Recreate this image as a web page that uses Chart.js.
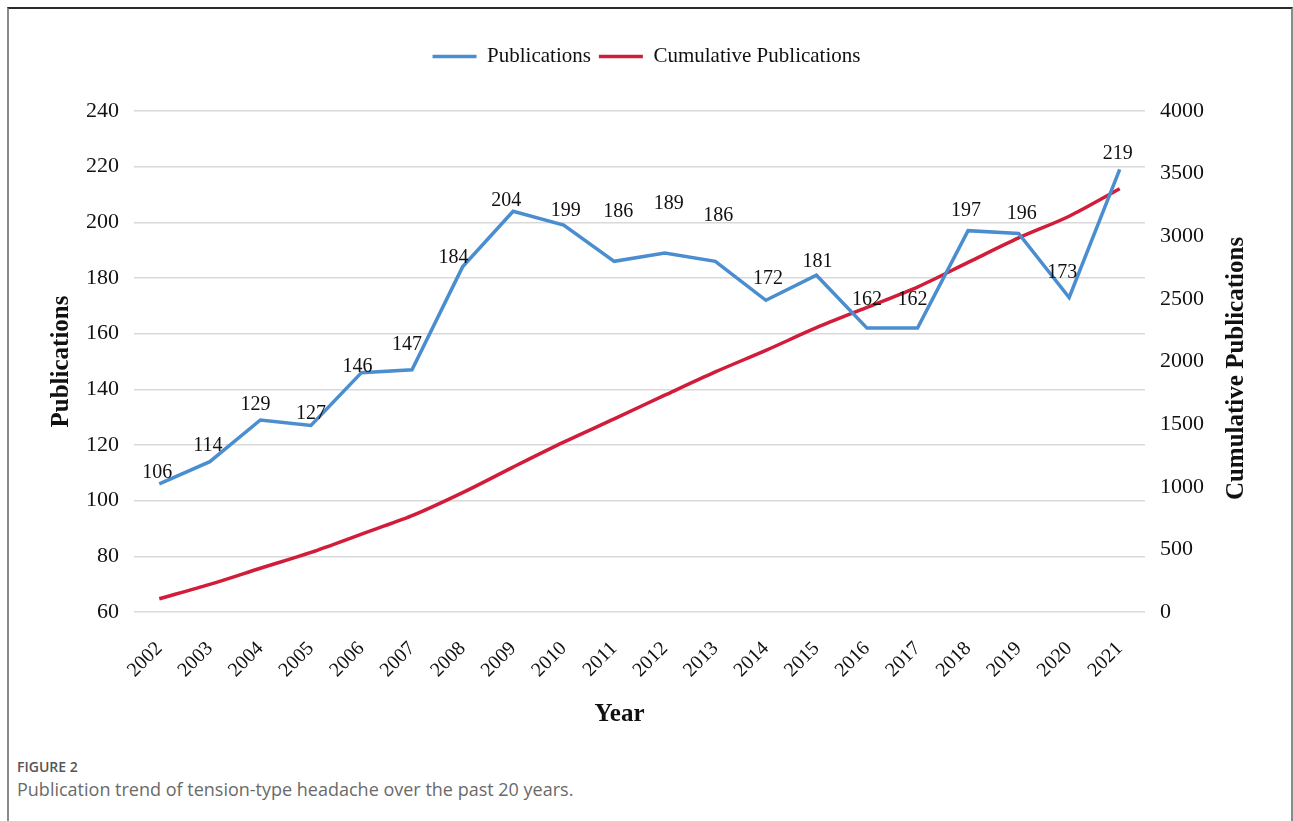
<!DOCTYPE html>
<html>
<head>
<meta charset="utf-8">
<script src="https://cdn.jsdelivr.net/npm/chart.js@4/dist/chart.umd.min.js"></script>
<style>
  html, body { margin: 0; padding: 0; background: #fff; }
  body { width: 1293px; height: 821px; position: relative; overflow: hidden; }
  .frame { position: absolute; left: 7px; top: 7px; width: 1282px; height: 830px;
           border-top: 2px solid #2a2a2a; border-left: 2px solid #8a8a8a; border-right: 2px solid #8a8a8a; }
  #chart { position: absolute; left: 0; top: 0; }
  .cap { position: absolute; left: 17px; font-family: "Open Sans", sans-serif; }
  .cap-num { top: 757px; font-size: 14px; font-weight: 600; color: #555; }
  .cap-txt { top: 777px; font-size: 18px; font-weight: 400; color: #6a6a6a; }
</style>
</head>
<body>
<div class="frame"></div>
<canvas id="chart" width="1293" height="740"></canvas>
<div class="cap cap-num">FIGURE 2</div>
<div class="cap cap-txt">Publication trend of tension-type headache over the past 20 years.</div>
<script>
'use strict';

/* ── 데이터 ── */
const years = ['2002','2003','2004','2005','2006','2007','2008','2009','2010','2011',
               '2012','2013','2014','2015','2016','2017','2018','2019','2020','2021'];
const publications = [106,114,129,127,146,147,184,204,199,186,189,186,172,181,162,162,197,196,173,219];
const cumulative = [106,220,349,476,622,769,953,1157,1356,1542,1731,1917,2089,2270,2432,2594,2791,2987,3160,3379];

/* ── 스타일 ── */
const BLUE = '#4a8ed0', RED = '#d11d3a';
const SERIF = '"Liberation Serif", "Times New Roman", serif';
const X_TITLE = 'Year', Y1_TITLE = 'Cumulative Publications';
// label nudges (px) so the value labels sit where the original put them
const labelDx = [-2,-2,-5,0,-4,-5,-9,-7,2,4,4,3,2,1,0,-5,-2,3,-7,-2];
const labelDy = [-11,-16,-15,-12,-6,-25,-9,-10,-14,-50,-49,-46,-22,-13,-28,-28,-20,-20,-25,-16];

const legendSpacer = {
  id: 'legendSpacer',
  beforeInit(chart) {
    const fit = chart.legend.fit;
    chart.legend.fit = function () { fit.bind(chart.legend)(); this.height += 34; };
  }
};

const valueLabels = {
  id: 'valueLabels',
  afterDatasetsDraw(chart) {
    const ctx = chart.ctx, meta = chart.getDatasetMeta(0);
    ctx.save();
    ctx.font = '20px ' + SERIF;
    ctx.fillStyle = '#111';
    ctx.textAlign = 'center';
    ctx.textBaseline = 'middle';
    meta.data.forEach((pt, i) => {
      ctx.fillText(String(publications[i]), pt.x + labelDx[i], pt.y + labelDy[i]);
    });
    ctx.restore();
  }
};

// right title reads bottom-to-top in the original, chart.js turns it the other way
const axisTitles = {
  id: 'axisTitles',
  afterDraw(chart) {
    const {ctx, chartArea} = chart;
    ctx.save();
    ctx.font = 'bold 25px ' + SERIF;
    ctx.fillStyle = '#111';
    ctx.textAlign = 'center';
    ctx.textBaseline = 'middle';
    ctx.fillText(X_TITLE, (chartArea.left + chartArea.right) / 2 - 20, 715);
    ctx.translate(1237, (chartArea.top + chartArea.bottom) / 2 + 7);
    ctx.rotate(-Math.PI / 2);
    ctx.fillText(Y1_TITLE, 0, 0);
    ctx.restore();
  }
};

new Chart(document.getElementById('chart'), {
  type: 'line',
  data: {
    labels: years,
    datasets: [
      { label: 'Publications', data: publications, yAxisID: 'y', borderColor: BLUE, backgroundColor: BLUE,
        borderWidth: 3.5, pointRadius: 0, tension: 0 },
      { label: 'Cumulative Publications', data: cumulative, yAxisID: 'y1', borderColor: RED, backgroundColor: RED,
        borderWidth: 3.5, pointRadius: 0, tension: 0.3 }
    ]
  },
  options: {
    responsive: false,
    animation: false,
    devicePixelRatio: 1,
    layout: { padding: { top: 38, left: 0, right: 0, bottom: 0 } },
    plugins: {
      legend: {
        position: 'top',
        labels: { usePointStyle: true, pointStyle: 'line', pointStyleWidth: 44, padding: 8,
                  color: '#111', font: { family: SERIF, size: 21 } }
      },
      tooltip: { enabled: false }
    },
    scales: {
      x: {
        offset: true,
        grid: { display: false },
        border: { display: false },
        ticks: { color: '#111', font: { family: SERIF, size: 20 }, minRotation: 45, maxRotation: 45, padding: 17 },
        afterFit: s => { s.height = 128; }
      },
      y: {
        position: 'left', min: 60, max: 240,
        ticks: { stepSize: 20, color: '#111', font: { family: SERIF, size: 22 }, padding: 15 },
        grid: { color: '#d9d9d9', lineWidth: 1.5, drawTicks: false },
        border: { display: false },
        title: { display: true, text: 'Publications', color: '#111', font: { family: SERIF, size: 25, weight: 'bold' },
                 padding: { top: 47, bottom: 0 } },
        afterFit: s => { s.width = 134; }
      },
      y1: {
        position: 'right', min: 0, max: 4000,
        ticks: { stepSize: 500, color: '#111', font: { family: SERIF, size: 22 }, padding: 15,
                 callback: v => String(v) },
        grid: { display: false, drawTicks: false },
        border: { display: false },
        afterFit: s => { s.width = 148; }
      }
    }
  },
  plugins: [legendSpacer, valueLabels, axisTitles]
});
</script>
</body>
</html>
